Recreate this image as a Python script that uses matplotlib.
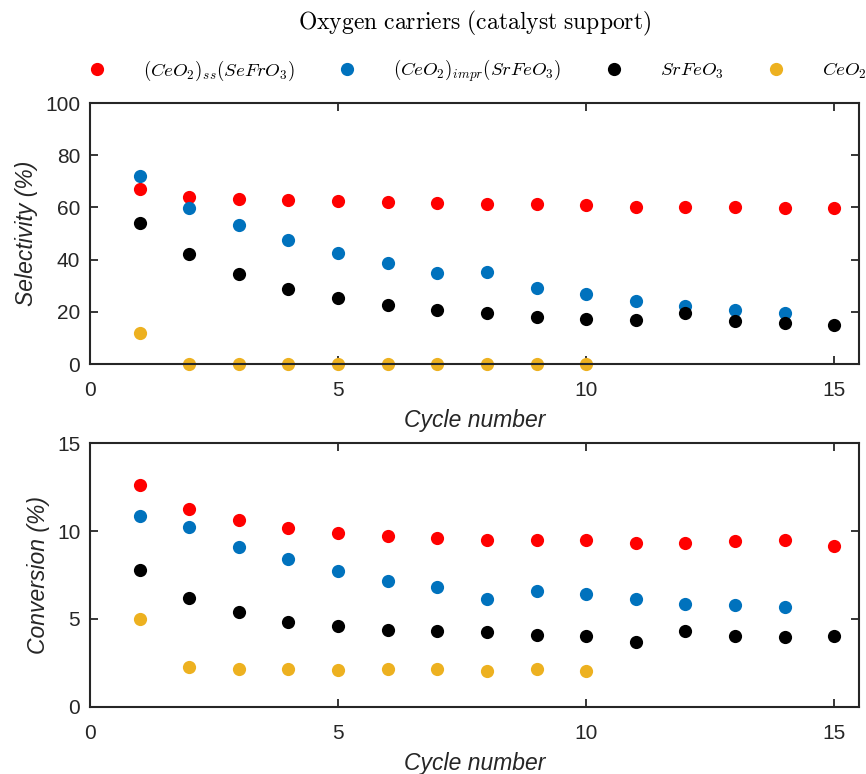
import matplotlib
matplotlib.use('Agg')
import matplotlib.pyplot as plt
import numpy as np

plt.rcParams['font.family'] = ['Liberation Sans', 'DejaVu Sans']
plt.rcParams['mathtext.fontset'] = 'cm'

# cycle numbers
cycles = np.arange(1, 16)

# series labels and colours (MATLAB default order)
labels = [r'$(CeO_2)_{ss}(SeFrO_3)$', r'$(CeO_2)_{impr}(SrFeO_3)$',
          r'$SrFeO_3$', r'$CeO_2$']
colors = ['#FF0000', '#0072BD', '#000000', '#EDB120']

# selectivity (%)
sel_ss = [67.0, 64.0, 63.2, 62.8, 62.3, 62.0, 61.7, 61.4, 61.2, 60.9,
          60.3, 60.2, 60.1, 59.9, 59.6]
sel_impr = [72.0, 59.6, 53.1, 47.6, 42.6, 38.6, 35.0, 35.1, 29.1, 26.7,
            24.3, 22.2, 20.7, 19.5]
sel_srfeo3 = [54.0, 42.3, 34.4, 28.9, 25.4, 22.6, 20.8, 19.5, 18.1, 17.2,
              17.0, 19.5, 16.6, 15.6, 15.1]
sel_ceo2 = [12.0, 0, 0, 0, 0, 0, 0, 0, 0, 0]

# conversion (%)
conv_ss = [12.63, 11.27, 10.6, 10.17, 9.87, 9.7, 9.6, 9.49, 9.49, 9.47,
           9.32, 9.34, 9.45, 9.47, 9.17]
conv_impr = [10.83, 10.25, 9.11, 8.43, 7.75, 7.15, 6.81, 6.15, 6.58, 6.43,
             6.11, 5.86, 5.77, 5.69]
conv_srfeo3 = [7.77, 6.2, 5.39, 4.82, 4.6, 4.37, 4.29, 4.24, 4.08, 4.03,
               3.71, 4.31, 4.03, 3.97, 4.01]
conv_ceo2 = [5.01, 2.25, 2.16, 2.14, 2.08, 2.18, 2.14, 2.06, 2.14, 2.04]

sel = [sel_ss, sel_impr, sel_srfeo3, sel_ceo2]
conv = [conv_ss, conv_impr, conv_srfeo3, conv_ceo2]

fig = plt.figure(figsize=(8.66, 7.74), dpi=100)
ax1 = fig.add_axes([0.1039, 0.5297, 0.8882, 0.3372])
ax2 = fig.add_axes([0.1039, 0.0866, 0.8882, 0.3410])

axcol = '#262626'


def style(ax, ylim, yticks, ylabel):
    ax.set_xlim(0, 15.5)
    ax.set_ylim(*ylim)
    ax.set_xticks([0, 5, 10, 15])
    ax.set_yticks(yticks)
    ax.tick_params(direction='in', top=True, right=True, length=6, width=1.3,
                   colors=axcol, labelsize=15)
    ax.tick_params(axis='x', pad=12)
    ax.tick_params(axis='y', pad=7)
    for s in ax.spines.values():
        s.set_linewidth(1.5)
        s.set_color(axcol)
    ax.set_xlabel('Cycle number', fontsize=16.5, style='italic', color=axcol,
                  labelpad=7)
    ax.set_ylabel(ylabel, fontsize=16.5, style='italic', color=axcol,
                  labelpad=5)


for y, c, lab in zip(sel, colors, labels):
    ax1.plot(cycles[:len(y)], y, 'o', color=c, ms=9.5, mew=0,
             clip_on=False, label=lab)
for y, c in zip(conv, colors):
    ax2.plot(cycles[:len(y)], y, 'o', color=c, ms=9.5, mew=0, clip_on=False)

style(ax1, (0, 100), [0, 20, 40, 60, 80, 100], 'Selectivity (%)')
style(ax2, (0, 15), [0, 5, 10, 15], 'Conversion (%)')

# title in computer-modern look
fig.text(0.548, 0.970, r'$\mathrm{Oxygen\ carriers\ (catalyst\ support)}$',
         ha='center', va='center', fontsize=17)

fig.legend(loc='center left', bbox_to_anchor=(0.0901, 0.909), ncol=4,
           frameon=False, fontsize=13.6, handlelength=2, handletextpad=1.43,
           columnspacing=1.8, borderpad=0, borderaxespad=0)

fig.savefig('out.png', dpi=100)
